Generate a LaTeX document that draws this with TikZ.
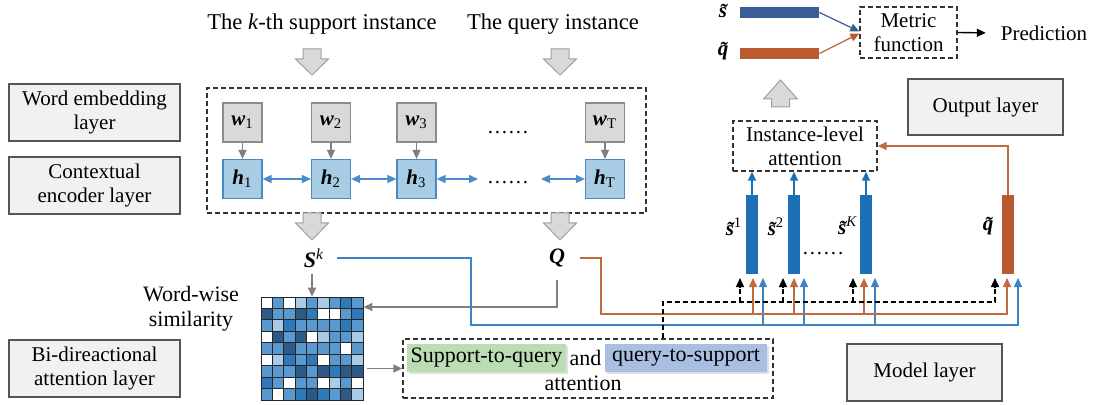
\documentclass[tikz,border=0pt]{standalone}
\usepackage{fontspec}
\setmainfont{Liberation Serif}
\usetikzlibrary{arrows.meta,shadows}
\definecolor{layerfill}{HTML}{F0F1F3}
\definecolor{layerdraw}{HTML}{555555}
\definecolor{wfill}{HTML}{D9D9D9}
\definecolor{wdraw}{HTML}{8C8C8C}
\definecolor{hfill}{HTML}{A9CCE5}
\definecolor{hdraw}{HTML}{4A8AC4}
\definecolor{harrowc}{HTML}{4A8CCB}
\definecolor{barblue}{HTML}{1D6FB8}
\definecolor{barorange}{HTML}{B95B2E}
\definecolor{sblue}{HTML}{385D97}
\definecolor{lineblue}{HTML}{3C82C4}
\definecolor{lineorange}{HTML}{C06A42}
\definecolor{grayline}{HTML}{7F7F7F}
\definecolor{greenhl}{HTML}{BCDCB4}
\definecolor{bluehl}{HTML}{A9BEE0}
\definecolor{dashc}{HTML}{333333}
\definecolor{blockdraw}{HTML}{A0A0A0}
\definecolor{simc0}{HTML}{FFFFFF}
\definecolor{simc1}{HTML}{A9CBE6}
\definecolor{simc2}{HTML}{5A98D0}
\definecolor{simc3}{HTML}{2F78B9}
\definecolor{simc4}{HTML}{2C5A86}
\newcommand\mytl[1]{\textbf{\textit{\ooalign{\hfil#1\hfil\cr\hfil\raisebox{-0.05ex}{\char"02DC}\hfil\cr}}}}
\newcommand\mydots{.\kern0.9pt.\kern0.9pt.\kern0.9pt.\kern0.9pt.\kern0.9pt.}
\newcommand\mydownblock[3]{%
  \path[blockarrow] ({#1-9},#2) -- ({#1+9},#2) -- ({#1+9},{#2+10}) -- ({#1+16.5},{#2+10}) -- (#1,#3) -- ({#1-16.5},{#2+10}) -- ({#1-9},{#2+10}) -- cycle;}
\tikzset{
  tip/.style={-{Triangle[width=4pt,length=4.5pt]}},
  layer/.style={draw=layerdraw, fill=layerfill, line width=0.6pt, minimum width=85.5pt, minimum height=28.5pt, align=center, inner sep=1pt},
  wbox/.style={draw=wdraw, fill=wfill, line width=0.6pt, minimum size=19.5pt, inner sep=0pt},
  hbox/.style={draw=hdraw, fill=hfill, line width=0.6pt, minimum size=19.5pt, inner sep=0pt},
  dbox/.style={draw=dashc, dash pattern=on 2.5pt off 1.5pt, line width=0.7pt, align=center, inner sep=0pt},
  blockarrow/.style={draw=blockdraw, fill=wfill, line width=0.5pt},
  garrow/.style={draw=grayline, line width=0.7pt, tip},
  harrow/.style={draw=harrowc, line width=0.7pt, {Triangle[width=4pt,length=4.5pt]}-{Triangle[width=4pt,length=4.5pt]}},
  vbar/.style={minimum width=6pt, minimum height=39.5pt, inner sep=0pt},
  hbar/.style={minimum width=39.5pt, minimum height=5.5pt, inner sep=0pt},
  blueln/.style={draw=lineblue, line width=0.7pt},
  orangeln/.style={draw=lineorange, line width=0.7pt},
  kdash/.style={draw=black, line width=0.7pt, dash pattern=on 2.5pt off 1.5pt},
  hl/.style={minimum height=14pt, inner sep=0pt, drop shadow={opacity=0.25, shadow xshift=0.8pt, shadow yshift=-0.8pt}},
  bigtext/.style={font=\fontsize{11.3}{13}\selectfont},
  midtext/.style={font=\fontsize{11}{12.5}\selectfont},
  dotstext/.style={inner sep=0pt},
}
\begin{document}
\begin{tikzpicture}[x=0.5pt,y=-0.5pt, font=\fontsize{10.5}{12}\selectfont]
\useasboundingbox (0,0) rectangle (1095,405);

% layer boxes
\node[layer] (we) at (94.5,112.5) {Word embedding\\layer};
\node[layer] (ce) at (94.5,185.5) {Contextual\\encoder layer};
\node[layer] (bi) at (94.5,368.5) {Bi-direactional\\attention layer};
\node[layer, minimum width=77.5pt, minimum height=28pt] (ol) at (985.5,107) {Output layer};
\node[layer, minimum width=77.5pt] (ml) at (924.5,372.5) {Model layer};

% inputs
\node[bigtext] (t1) at (322,24) {The \textit{k}-th support instance};
\node[bigtext] (t2) at (553,24) {The query instance};
\mydownblock{312}{49}{75}
\mydownblock{560}{49}{75}

% encoder
\node[dbox, minimum width=219.5pt, minimum height=62.5pt] (enc) at (426.5,150.5) {};
\node[wbox] (w1) at (242.5,122.5) {\textbf{\textit{w}}\textsubscript{1}};
\node[wbox] (w2) at (331,122.5) {\textbf{\textit{w}}\textsubscript{2}};
\node[wbox] (w3) at (416.5,122.5) {\textbf{\textit{w}}\textsubscript{3}};
\node[wbox] (wT) at (605,122.5) {\textbf{\textit{w}}\textsubscript{T}};
\node[hbox] (h1) at (242.5,179) {\textbf{\textit{h}}\textsubscript{1}};
\node[hbox] (h2) at (331,179) {\textbf{\textit{h}}\textsubscript{2}};
\node[hbox] (h3) at (416.5,179) {\textbf{\textit{h}}\textsubscript{3}};
\node[hbox] (hT) at (605,179) {\textbf{\textit{h}}\textsubscript{T}};
\node[dotstext] (dw) at (508,133) {\mydots};
\node[dotstext] (dh) at (508,183) {\mydots};
\foreach \n in {1,2,3,T} \draw[garrow] (w\n.south) -- (h\n.north);
\draw[harrow] (h1.east) -- (h2.west);
\draw[harrow] (h2.east) -- (h3.west);
\coordinate (ha) at (478,179);
\coordinate (hb) at (541,179);
\draw[harrow] (h3.east) -- (ha);
\draw[harrow] (hb) -- (hT.west);
\mydownblock{312}{213}{240}
\mydownblock{560}{213}{240}

% S^k and Q
\node[midtext] (Sk) at (314,258) {\textbf{\textit{S}}\textsuperscript{\textit{k}}};
\node[midtext] (Q) at (557,258) {\textbf{\textit{Q}}};

% similarity matrix
\node[midtext, align=center] (ww) at (191,309) {Word-wise\\similarity};
\node[minimum width=51pt, minimum height=51.5pt, inner sep=0pt] (sim) at (312,348.5) {};
\foreach \rowlist [count=\r] in {{0,2,0,1,2,1,2,3,2},{4,2,2,4,3,0,0,2,3},{2,1,3,2,2,2,2,3,2},{0,4,2,4,0,1,2,2,1},{2,2,4,2,2,2,2,0,2},{0,1,3,2,3,0,2,2,1},{2,2,2,4,2,4,3,4,4},{3,2,0,2,2,0,1,2,0},{2,0,2,3,4,3,2,4,1}} {
  \foreach \v [count=\c] in \rowlist {
    \path[fill=simc\v, draw=black!85, line width=0.45pt] ({261+(\c-1)*11.33},{297+(\r-1)*11.44}) rectangle ++(11.33,11.44);
  }
}
\draw[garrow] (sim.north |- Sk.south) -- (sim.north);
\draw[garrow] ([yshift=-3pt]Q.south) |- (sim.east |- 0,307);

% attention box
\node[dbox, minimum width=185pt, minimum height=29.5pt] (att) at (588,368.5) {};
\node[hl, midtext, fill=greenhl, minimum width=79.5pt] (s2q) at (486.5,358) {Support-to-query};
\node[midtext] (and) at (585.5,358) {and};
\node[hl, midtext, fill=bluehl, minimum width=81pt] (q2s) at (686,358) {query-to-support};
\node[midtext] (attn) at (583,383) {attention};
\draw[garrow, shorten <=2pt] (sim.east |- att.west) -- (att.west);

% output part
\node[hbar, fill=sblue] (sbar) at (779.5,12.5) {};
\node[hbar, fill=barorange] (qbar) at (779.5,53.5) {};
\node (slab) at (723,13) {\mytl{s}};
\node (qlab) at (723,51) {\mytl{q}};
\node[dbox, minimum width=48.5pt, minimum height=25.5pt] (metric) at (908.5,32.5) {Metric\\function};
\node (pred) at (1044,33) {Prediction};
\draw[draw=sblue, line width=0.6pt, tip] (sbar.east) -- ([yshift=0.5pt]metric.west);
\draw[draw=barorange, line width=0.6pt, tip] (qbar.east) -- ([yshift=-0.5pt]metric.west);
\draw[draw=black, line width=0.7pt, tip, shorten >=4pt] (metric.east) -- (pred.west);
\path[blockarrow] (780.5,80) -- (797.5,99) -- (789.5,99) -- (789.5,107) -- (771.5,107) -- (771.5,99) -- (763.5,99) -- cycle;

% instance-level attention
\node[dbox, minimum width=72pt, minimum height=25pt] (inst) at (805,146) {Instance-level\\attention};
\node[vbar, fill=barblue] (b1) at (752,234.5) {};
\node[vbar, fill=barblue] (b2) at (794,234.5) {};
\node[vbar, fill=barblue] (bK) at (866,234.5) {};
\node[vbar, fill=barorange] (bq) at (1008,235) {};
\node[inner sep=1pt] (l1) at (734,227) {\mytl{s}\textsuperscript{1}};
\node[inner sep=1pt] (l2) at (776,227) {\mytl{s}\textsuperscript{2}};
\node[inner sep=1pt] (lK) at (848,226) {\mytl{s}\textsuperscript{\textit{K}}};
\node (lq) at (988,226) {\mytl{q}};
\node[dotstext] (ds) at (823,254) {\mydots};
\foreach \b in {b1,b2,bK} \draw[draw=barblue, line width=0.7pt, tip] (\b.north) -- (\b.north |- inst.south);
\draw[draw=lineorange, line width=0.7pt, tip] (bq.north) |- (inst.east);

% arrow tips below bars
\coordinate (k1) at (740,278); \coordinate (o1) at (753,278); \coordinate (u1) at (763,278);
\coordinate (k2) at (783,278); \coordinate (o2) at (794,278); \coordinate (u2) at (804,278);
\coordinate (kK) at (853,278); \coordinate (oK) at (864,278); \coordinate (uK) at (875,278);
\coordinate (kq) at (995,278); \coordinate (oq) at (1007,278); \coordinate (uq) at (1018,278);

% blue line from S^k
\draw[blueln, tip] ([xshift=3pt]Sk.east) -| (471,325) -| (uq);
\foreach \n in {u1,u2,uK} \draw[blueln, tip] (\n |- 0,325) -- (\n);
% orange line from Q
\draw[orangeln, tip] ([xshift=4pt]Q.east) -| (601,314) -| (oq);
\foreach \n in {o1,o2,oK} \draw[orangeln, tip] (\n |- 0,314) -- (\n);
% dashed line from attention
\draw[kdash] (att.north -| 663,0) -- (663,302) -| ([yshift=-4.5pt]kq);
\draw[black, line width=0.7pt, tip] ([yshift=-4.6pt]kq) -- (kq);
\foreach \n in {k1,k2,kK} {
  \draw[kdash] (\n |- 0,302) -- ([yshift=-4.5pt]\n);
  \draw[black, line width=0.7pt, tip] ([yshift=-4.6pt]\n) -- (\n);
}
\end{tikzpicture}
\end{document}
